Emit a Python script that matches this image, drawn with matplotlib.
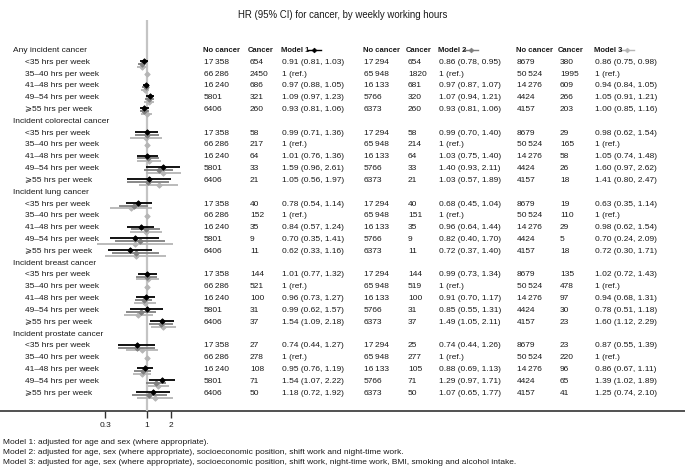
import matplotlib
matplotlib.use('Agg')
import matplotlib.pyplot as plt
import numpy as np

plt.rcParams['font.family'] = ['Liberation Sans', 'DejaVu Sans']

W, H, DPI = 685, 466, 100
nan = np.nan

title = 'HR (95% CI) for cancer, by weekly working hours'
groups = ['Any incident cancer', 'Incident colorectal cancer', 'Incident lung cancer',
          'Incident breast cancer', 'Incident prostate cancer']
categories = ['<35 hrs per week', '35\u201340 hrs per week', '41\u201348 hrs per week',
              '49\u201354 hrs per week', '\u2a7e55 hrs per week']
model_names = ['Model 1', 'Model 2', 'Model 3']
footnotes = [
    'Model 1: adjusted for age and sex (where appropriate).',
    'Model 2: adjusted for age, sex (where appropriate), socioeconomic position, shift work and night-time work.',
    'Model 3: adjusted for age, sex (where appropriate), socioeconomic position, shift work, night-time work, BMI, smoking and alcohol intake.',
]
ticks = [0.3, 1, 2]
tick_labels = ['0.3', '1', '2']

# no-cancer counts per working-hours category (same for all cancer types)
m1_nocancer = [17358, 66286, 16240, 5801, 6406]
m2_nocancer = [17294, 65948, 16133, 5766, 6373]
m3_nocancer = [8679, 50524, 14276, 4424, 4157]

# cancer counts, HR and CI (group-major order: 5 groups x 5 categories)
m1_cases = [654, 2450, 686, 321, 260, 58, 217, 64, 33, 21, 40, 152, 35, 9, 11,
            144, 521, 100, 31, 37, 27, 278, 108, 71, 50]
m1_hr = [0.91, 1, 0.97, 1.09, 0.93, 0.99, 1, 1.01, 1.59, 1.05, 0.78, 1, 0.84, 0.70, 0.62,
         1.01, 1, 0.96, 0.99, 1.54, 0.74, 1, 0.95, 1.54, 1.18]
m1_lo = [0.81, nan, 0.88, 0.97, 0.81, 0.71, nan, 0.76, 0.96, 0.56, 0.54, nan, 0.57, 0.35, 0.33,
         0.77, nan, 0.73, 0.62, 1.09, 0.44, nan, 0.76, 1.07, 0.72]
m1_hi = [1.03, nan, 1.05, 1.23, 1.06, 1.36, nan, 1.36, 2.61, 1.97, 1.14, nan, 1.24, 1.41, 1.16,
         1.32, nan, 1.27, 1.57, 2.18, 1.27, nan, 1.19, 2.22, 1.92]

m2_cases = [654, 1820, 681, 320, 260, 58, 214, 64, 33, 21, 40, 151, 35, 9, 11,
            144, 519, 100, 31, 37, 25, 277, 105, 71, 50]
m2_hr = [0.86, 1, 0.97, 1.07, 0.93, 0.99, 1, 1.03, 1.40, 1.03, 0.68, 1, 0.96, 0.82, 0.72,
         0.99, 1, 0.91, 0.85, 1.49, 0.74, 1, 0.88, 1.29, 1.07]
m2_lo = [0.78, nan, 0.87, 0.94, 0.81, 0.70, nan, 0.75, 0.93, 0.57, 0.45, nan, 0.64, 0.40, 0.37,
         0.73, nan, 0.70, 0.55, 1.05, 0.44, nan, 0.69, 0.97, 0.65]
m2_hi = [0.95, nan, 1.07, 1.21, 1.06, 1.40, nan, 1.40, 2.11, 1.89, 1.04, nan, 1.44, 1.70, 1.40,
         1.34, nan, 1.17, 1.31, 2.11, 1.26, nan, 1.13, 1.71, 1.77]

m3_cases = [380, 1995, 609, 266, 203, 29, 165, 58, 26, 18, 19, 110, 29, 5, 18,
            135, 478, 97, 30, 23, 23, 220, 96, 65, 41]
m3_hr = [0.86, 1, 0.94, 1.05, 1.00, 0.98, 1, 1.05, 1.60, 1.41, 0.63, 1, 0.98, 0.70, 0.72,
         1.02, 1, 0.94, 0.78, 1.60, 0.87, 1, 0.86, 1.39, 1.25]
m3_lo = [0.75, nan, 0.84, 0.91, 0.85, 0.62, nan, 0.74, 0.97, 0.80, 0.35, nan, 0.62, 0.24, 0.30,
         0.72, nan, 0.68, 0.51, 1.12, 0.55, nan, 0.67, 1.02, 0.74]
m3_hi = [0.98, nan, 1.05, 1.21, 1.16, 1.54, nan, 1.48, 2.62, 2.47, 1.14, nan, 1.54, 2.09, 1.71,
         1.43, nan, 1.31, 1.18, 2.29, 1.39, nan, 1.11, 1.89, 2.10]

models = [
    (m1_nocancer, m1_cases, m1_hr, m1_lo, m1_hi),
    (m2_nocancer, m2_cases, m2_hr, m2_lo, m2_hi),
    (m3_nocancer, m3_cases, m3_hr, m3_lo, m3_hi),
]

# ---------------- styling / layout (pixels) ----------------
TXT = '#1a1a1a'
colors = ['#000000', '#7f7f7f', '#b5b5b5']
offsets_px = [-1.2, 1.6, 4.4]
FS = 6.0
FSB = 5.5
MS = 2.8
Y0, DY = 50.4, 11.82          # row centre pixel positions
AXIS_Y, TOP_Y = 411, 20
X_ONE, K = 147, 34.8          # pixel of HR=1, pixels per ln unit
col_x = [(203, 248, 281), (363, 406, 438), (516, 558, 594)]
legend_x = [(307, 321), (464, 478), (620, 634)]

fig = plt.figure(figsize=(W / DPI, H / DPI), dpi=DPI)
ov = fig.add_axes([0, 0, 1, 1])
ov.set_xlim(0, W)
ov.set_ylim(H, 0)
ov.axis('off')

def ypx(i):
    return Y0 + DY * i

# forest axes (log scale)
PXL, PXR = 40, 210
ax = fig.add_axes([PXL / W, (H - AXIS_Y) / H, (PXR - PXL) / W, (AXIS_Y - TOP_Y) / H])
ax.set_xscale('log')
ax.set_xlim(np.exp((PXL - X_ONE) / K), np.exp((PXR - X_ONE) / K))
ax.set_ylim((AXIS_Y - Y0) / DY, (TOP_Y - Y0) / DY)
ax.patch.set_alpha(0)
for s in ax.spines.values():
    s.set_visible(False)
ax.set_yticks([])
ax.set_xticks(ticks)
ax.set_xticklabels(tick_labels)
ax.xaxis.set_minor_locator(matplotlib.ticker.NullLocator())
ax.tick_params(axis='x', direction='out', length=5, width=1.0, color='#333333',
               labelsize=FS, labelcolor=TXT, pad=3)
ax.axvline(1, color='#c4c4c4', lw=1.6, zorder=0)

# row indices of data rows
data_rows = np.array([6 * g + 1 + c for g in range(len(groups)) for c in range(len(categories))])

for m in reversed(range(3)):
    _, cases, hr, lo, hi = models[m]
    hr = np.array(hr, float); lo = np.array(lo, float); hi = np.array(hi, float)
    est = ~np.isnan(lo)
    yy = data_rows + offsets_px[m] / DY
    ax.hlines(yy[est], lo[est], hi[est], color=colors[m], lw=1.3, zorder=2 + (3 - m))
    ax.plot(hr[est], yy[est], 'D', ms=MS, mew=0.6, color=colors[m], zorder=3 + (3 - m), clip_on=False)

# reference category markers
ref = np.isnan(np.array(m1_lo, float))
ax.plot(np.array(m1_hr, float)[ref], data_rows[ref], 'D', ms=MS, mew=0.6, color=colors[2], zorder=2)

# ---------------- text ----------------
ov.text(W / 2, 15, title, ha='center', va='center', fontsize=6.9, color=TXT)

for g, gname in enumerate(groups):
    ov.text(13, ypx(6 * g), gname, ha='left', va='center', fontsize=FS, color=TXT)
    for c, cname in enumerate(categories):
        r = 6 * g + 1 + c
        ov.text(25, ypx(r), cname, ha='left', va='center', fontsize=FS, color=TXT)

def fmt_n(n):
    s = f'{n:d}'
    return s[:-3] + '\u2009' + s[-3:] if n >= 10000 else s

for m in range(3):
    nocan, cases, hr, lo, hi = models[m]
    xa, xb, xc = col_x[m]
    ov.text(xa, ypx(0), 'No cancer', ha='left', va='center', fontsize=FSB, fontweight='bold', color=TXT)
    ov.text(xb, ypx(0), 'Cancer', ha='left', va='center', fontsize=FSB, fontweight='bold', color=TXT)
    ov.text(xc, ypx(0), model_names[m], ha='left', va='center', fontsize=FSB, fontweight='bold', color=TXT)
    lx0, lx1 = legend_x[m]
    ov.plot([lx0, lx1], [ypx(0), ypx(0)], color=colors[m], lw=1.0)
    ov.plot([(lx0 + lx1) / 2], [ypx(0)], 'D', ms=2.4, mew=0.5, color=colors[m])
    for k, r in enumerate(data_rows):
        y = ypx(r)
        ov.text(xa + 1, y, fmt_n(nocan[k % 5]), ha='left', va='center', fontsize=FS, color=TXT)
        ov.text(xb + 2, y, str(cases[k]), ha='left', va='center', fontsize=FS, color=TXT)
        if np.isnan(lo[k]):
            s = '1 (ref.)'
        else:
            s = f'{hr[k]:.2f} ({lo[k]:.2f}, {hi[k]:.2f})'
        ov.text(xc + 1, y, s, ha='left', va='center', fontsize=FS, color=TXT)

ov.axhline(AXIS_Y, color='#333333', lw=1.2)

for i, fn in enumerate(footnotes):
    ov.text(3, 443 + 9.5 * i, fn, ha='left', va='center', fontsize=FS, color=TXT)

fig.savefig('out.png', dpi=DPI)
